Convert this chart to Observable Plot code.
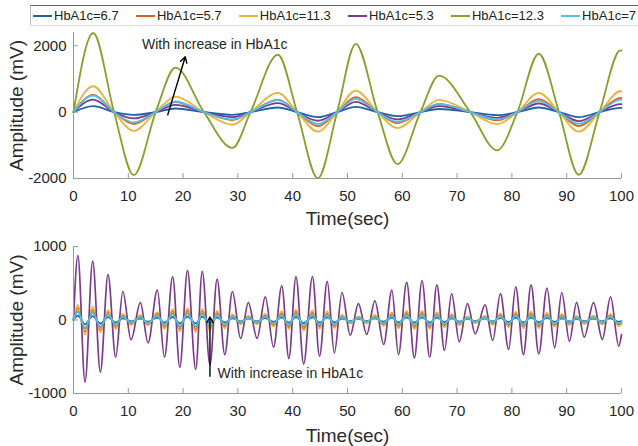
<!DOCTYPE html>
<html>
<head>
<meta charset="utf-8">
<script src="https://cdn.jsdelivr.net/npm/d3@7"></script>
<script src="https://cdn.jsdelivr.net/npm/@observablehq/plot@0.6"></script>
<style>
  body { margin: 0; background: #fff; }
  #wrap { position: relative; width: 638px; height: 446px; overflow: hidden; font-family: "Liberation Sans", Arial, sans-serif; }
  #top, #bot { position: absolute; left: 0; }
  #top { top: 0; }
  #bot { top: 230px; }
  #legend { position: absolute; left: 30px; top: 5px; width: 608px; height: 21px; background: #fff;
    border-top: 1px solid #666; border-left: 1px solid #bbb; border-bottom: 1px solid #ddd;
    display: flex; align-items: center; justify-content: space-between; padding: 0 2px 0 2px; box-sizing: border-box;
    font-size: 13px; color: #222; z-index: 5; }
  .item { display: flex; align-items: center; white-space: nowrap; }
  .swatch { display: inline-block; width: 19px; height: 0; border-top: 2px solid; margin-right: 2px; }
</style>
</head>
<body>
<div id="wrap">
  <div id="top"></div>
  <div id="bot"></div>
  <div id="legend"></div>
</div>
<script>
const series = ["HbA1c=6.7", "HbA1c=5.7", "HbA1c=11.3", "HbA1c=5.3", "HbA1c=12.3", "HbA1c=7"];
const colors = ["#1f62a8", "#d9631f", "#ecb23a", "#7e3a8e", "#86a02c", "#4dc0e8"];
const xTicks = [0, 10, 20, 30, 40, 50, 60, 70, 80, 90, 100];
const topYTicks = [-2000, 0, 2000];
const botYTicks = [-1000, 0, 1000];

// Top panel: times of extrema and zero crossings (sec)
const topT = [0, 3.6, 7.4, 11.0, 15.0, 18.6, 23.8, 29.0, 32.3, 37.3, 40.8, 44.6, 48.1, 51.5, 55.5, 59.1, 63.3, 66.7, 72.4, 77.3, 81.0, 84.9, 88.6, 92.2, 96.0, 99.8, 100];
const top67  = [0, 180, 0, -85, 0, 110, 0, -80, 0, 140, 0, -150, 0, 160, 0, -120, 0, 95, 0, -90, 0, 140, 0, -150, 0, 130, 129];
const top57  = [0, 520, 0, -360, 0, 300, 0, -240, 0, 380, 0, -420, 0, 450, 0, -330, 0, 240, 0, -250, 0, 390, 0, -420, 0, 430, 428];
const top113 = [0, 780, 0, -565, 0, 470, 0, -380, 0, 580, 0, -590, 0, 650, 0, -480, 0, 370, 0, -360, 0, 580, 0, -590, 0, 630, 628];
const top53  = [0, 380, 0, -190, 0, 220, 0, -150, 0, 270, 0, -260, 0, 310, 0, -220, 0, 180, 0, -170, 0, 260, 0, -270, 0, 240, 238];
const top123 = [0, 2385, 0, -1900, 0, 1340, 0, -1080, 0, 1730, 0, -1990, 0, 2060, 0, -1565, 0, 1100, 0, -1150, 0, 1760, 0, -1890, 0, 1860, 1855];
const top7   = [0, 500, 0, -310, 0, 320, 0, -220, 0, 360, 0, -360, 0, 400, 0, -290, 0, 250, 0, -220, 0, 340, 0, -350, 0, 380, 378];

// Bottom panel: times of extrema (sec)
const botT = [0, 0.8, 2.1, 3.5, 4.9, 6.3, 7.7, 9.0, 10.5, 12.2, 13.6, 15.3, 16.6, 18.1, 19.4, 20.8, 22.3, 23.5, 24.9, 26.2, 27.6, 29.0, 30.5, 31.9, 33.5, 35.0, 36.5, 38.0, 39.3, 40.6, 42.0, 43.6, 44.9, 46.3, 47.6, 49.0, 50.5, 52.0, 53.5, 55.0, 56.6, 58.1, 59.3, 60.8, 62.2, 63.6, 65.0, 66.3, 67.7, 69.0, 70.4, 71.9, 73.3, 75.1, 76.5, 77.9, 79.4, 80.7, 82.1, 83.5, 84.9, 86.4, 87.8, 89.1, 90.5, 91.8, 93.2, 94.9, 96.5, 98.0, 99.5, 100];
const bot67  = [0, 60,-58, 53,-49, 39,-35, 23,-19, 19,-22, 32,-35, 43,-45, 47,-47, 45,-42, 36,-33, 22,-18, 17,-18, 24,-26, 35,-37, 42,-42, 38,-35, 34,-31, 20,-14, 15,-14, 21,-23, 31,-33, 36,-36, 36,-35, 31,-29, 23,-21, 14,-13, 17,-19, 27,-28, 32,-33, 33,-32, 28,-26, 23,-20, 16,-16, 18,-18, 23,-25, -14];
const bot57  = [0, 164,-160, 143,-135, 107,-96, 63,-51, 52,-59, 87,-96, 117,-122, 127,-127, 121,-116, 97,-89, 61,-48, 46,-48, 65,-70, 94,-100, 113,-114, 103,-94, 92,-85, 55,-39, 40,-37, 56,-63, 83,-89, 97,-98, 99,-96, 85,-79, 62,-56, 39,-36, 46,-53, 72,-76, 88,-89, 89,-88, 77,-72, 63,-55, 45,-44, 48,-50, 64,-68, -40];
const bot113 = [0, 207,-200, 181,-170, 135,-122, 79,-70, 66,-75, 109,-122, 148,-155, 161,-161, 153,-146, 123,-113, 77,-60, 59,-60, 82,-89, 119,-126, 143,-144, 130,-118, 117,-108, 70,-49, 50,-47, 71,-80, 105,-113, 123,-124, 125,-122, 107,-100, 79,-71, 49,-45, 58,-67, 91,-96, 111,-113, 113,-111, 97,-91, 79,-69, 56,-56, 60,-63, 80,-85, -50];
const bot53  = [0, 877,-845, 800,-708, 616,-507, 388,-270, 237,-311, 406,-507, 589,-644, 671,-671, 662,-610, 557,-470, 388,-251, 237,-251, 315,-370, 466,-525, 589,-599, 589,-493, 525,-448, 374,-205, 224,-196, 260,-333, 406,-470, 511,-516, 534,-507, 479,-415, 360,-297, 223,-188, 205,-278, 360,-401, 452,-470, 479,-461, 434,-379, 374,-288, 237,-233, 237,-264, 315,-356, -200];
const bot123 = [0, 121,-118, 106,-99, 79,-71, 46,-38, 38,-44, 64,-71, 86,-90, 94,-94, 89,-85, 72,-66, 45,-35, 34,-35, 48,-52, 69,-74, 83,-84, 76,-69, 68,-63, 41,-29, 29,-27, 41,-47, 61,-66, 72,-72, 73,-71, 63,-58, 46,-42, 29,-26, 34,-39, 53,-56, 65,-66, 66,-65, 57,-53, 46,-40, 33,-33, 35,-37, 47,-50, -28];
const bot7   = [0, 110,-105, 95,-88, 70,-62, 42,-33, 34,-38, 56,-62, 75,-78, 82,-82, 78,-74, 63,-57, 40,-31, 30,-31, 42,-45, 60,-64, 72,-73, 66,-60, 60,-55, 36,-25, 26,-24, 36,-41, 54,-57, 63,-63, 64,-62, 55,-51, 40,-36, 25,-23, 30,-34, 47,-49, 57,-57, 58,-57, 50,-46, 41,-35, 29,-28, 31,-33, 41,-44, -25];

const annotText = "With increase in HbA1c";
const topAnnot = {t: 12.5, v: 2030};
const topArrow = {t1: 17.2, v1: -83, t2: 20.4, v2: 1667};
const botAnnot = {t: 26.3, v: -726};
const botArrow = {t1: 24.9, v1: -767, t2: 24.9, v2: 40};

function table(T, arrays) {
  const rows = [];
  arrays.forEach((arr, i) => {
    if (arr.length !== T.length) throw new Error(series[i] + " length " + arr.length + " vs " + T.length);
    arr.forEach((v, j) => rows.push({t: T[j], v, s: series[i]}));
  });
  return rows;
}
const topData = table(topT, [top67, top57, top113, top53, top123, top7]);
const botData = table(botT, [bot67, bot57, bot113, bot53, bot123, bot7]);

const axisGrey = "#9a9a9a";
const font = "'Liberation Sans', Arial, sans-serif";
const fmt = d => String(d);

function panel({data, yDomain, yTicks, height, marginTop, marginBottom, strokeWidth, annot, arrow, xLabelOffset}) {
  return Plot.plot({
    width: 638, height, marginLeft: 73, marginRight: 17, marginTop, marginBottom,
    style: {fontFamily: font, fontSize: "15px", color: "#262626", background: "white", overflow: "visible"},
    x: {domain: [0, 100]},
    y: {domain: yDomain},
    color: {domain: series, range: colors},
    marks: [
      Plot.line(data, {x: "t", y: "v", z: "s", stroke: "s", strokeWidth, curve: "monotone-x"}),
      Plot.ruleX([0], {stroke: axisGrey, strokeWidth: 1}),
      Plot.ruleY([yDomain[0]], {stroke: axisGrey, strokeWidth: 1}),
      Plot.axisX({ticks: xTicks, tickFormat: fmt, tickSize: -5, tickPadding: 17, stroke: axisGrey, fill: "#262626", fontSize: 15, label: null}),
      Plot.axisY({ticks: yTicks, tickFormat: fmt, tickSize: -5, tickPadding: 12, stroke: axisGrey, fill: "#262626", fontSize: 15, label: null}),
      Plot.axisX({ticks: [], tickSize: 0, label: "Time(sec)", labelAnchor: "center", labelArrow: "none", labelOffset: xLabelOffset, fontSize: 19, fill: "#2a2a2a"}),
      Plot.axisY({ticks: [], tickSize: 0, label: "Amplitude (mV)", labelAnchor: "center", labelArrow: "none", labelOffset: 64, fontSize: 19, fill: "#2a2a2a"}),
      Plot.arrow([arrow], {x1: "t1", y1: "v1", x2: "t2", y2: "v2", stroke: "black", strokeWidth: 1.4, headLength: 7}),
      Plot.text([annot], {x: "t", y: "v", text: () => annotText, textAnchor: "start", lineAnchor: "middle", fontSize: 14, fill: "#262626"})
    ]
  });
}

document.getElementById("top").append(panel({
  data: topData, yDomain: [-2000, 2400], yTicks: topYTicks, height: 230, marginTop: 32, marginBottom: 52,
  strokeWidth: 1.8, annot: topAnnot, arrow: topArrow, xLabelOffset: 46
}));
document.getElementById("bot").append(panel({
  data: botData, yDomain: [-1000, 1000], yTicks: botYTicks, height: 216, marginTop: 16, marginBottom: 53,
  strokeWidth: 1.7, annot: botAnnot, arrow: botArrow, xLabelOffset: 48
}));

const legend = document.getElementById("legend");
series.forEach((s, i) => {
  const item = document.createElement("div");
  item.className = "item";
  const sw = document.createElement("span");
  sw.className = "swatch";
  sw.style.borderTopColor = colors[i];
  const tx = document.createElement("span");
  tx.textContent = s;
  item.append(sw, tx);
  legend.append(item);
});
</script>
</body>
</html>
